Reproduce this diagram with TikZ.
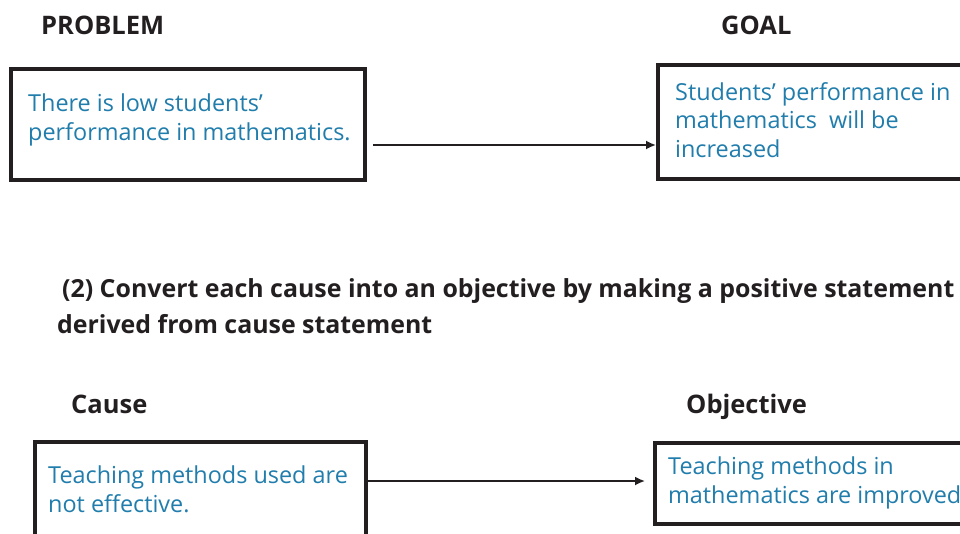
\documentclass[tikz,border=0pt]{standalone}
\usepackage{fontspec}
\setmainfont{Open Sans}
\usetikzlibrary{arrows.meta}
\definecolor{inkblue}{RGB}{32,125,172}
\definecolor{inkdark}{RGB}{35,31,32}
\tikzset{
  framebox/.style={draw=inkdark, line width=3.6pt, inner sep=0pt, anchor=north west},
  bodytext/.style={text=inkblue, font=\fontsize{23.4}{28.5}\selectfont, anchor=base west, inner sep=0pt, align=left},
  headtext/.style={text=inkdark, font=\fontsize{25.5}{36}\selectfont\bfseries, anchor=base west, inner sep=0pt, align=left},
  steptext/.style={headtext, font=\fontsize{24.9}{36}\selectfont\bfseries},
  link/.style={draw=inkdark, line width=1.8pt, -{Latex[length=10pt,width=9pt]}},
}
\begin{document}
\begin{tikzpicture}[x=1pt,y=-1pt]
\useasboundingbox (0,0) rectangle (960,533);
\clip (0,0) rectangle (960,533);
\fill[white] (0,0) rectangle (960,533);

% headings
\node[headtext] (hprob) at (41,34) {PROBLEM};
\node[headtext] (hgoal) at (721,34) {GOAL};
\node[steptext] (hstep) at (62,297) {(2) Convert each cause into an objective by making a positive statement};
\node[steptext] (hstep2) at (57,333) {derived from cause statement};
\node[headtext] (hcause) at (71,413) {Cause};
\node[headtext] (hobj) at (686,413) {Objective};

% upper pair of boxes
\node[framebox, minimum width=354pt, minimum height=111pt] (prob) at (9,67) {};
\node[framebox, minimum width=330pt, minimum height=114pt] (goal) at (656,63) {};
% multi-line texts are placed by the baseline of their last line
\node[bodytext] (tprob) at (28,140) {There is low students’\\performance in mathematics.};
\node[bodytext] (tgoal) at (675,157) {Students’ performance in\\mathematics \ will be\\increased};

% lower pair of boxes
\node[framebox, minimum width=331pt, minimum height=120pt] (cause) at (33,440) {};
\node[framebox, minimum width=330pt, minimum height=81pt] (obj) at (653,441) {};
\node[bodytext] (tcause) at (48,512) {Teaching methods used are\\not effective.};
\node[bodytext] (tobj) at (668,503) {Teaching methods in\\mathematics are improved};

% connectors
\coordinate (s1) at (373,145);
\draw[link] (s1) -- (s1 -| goal.west);
\coordinate (s2) at (364,481);
\coordinate (e2) at (645,481);
\draw[link] (s2) -- (e2);
\end{tikzpicture}
\end{document}
